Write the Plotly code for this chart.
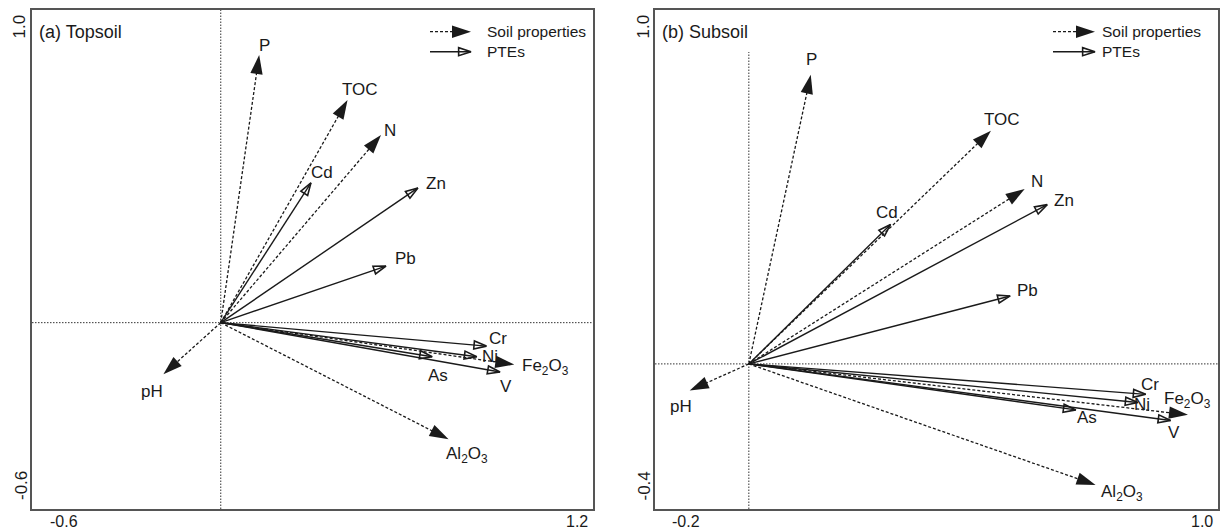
import plotly.graph_objects as go

W, H = 1220, 532
FONT = "Liberation Sans, Arial, sans-serif"
INK = "#1a1a1a"
FRAME = "#555555"

# ---------------- data ----------------
soil_names = ["P", "TOC", "N", "pH", "Al<sub>2</sub>O<sub>3</sub>", "Fe<sub>2</sub>O<sub>3</sub>"]
pte_names = ["Cd", "Zn", "Pb", "Cr", "Ni", "As", "V"]

# (a) Topsoil
top_soil_x = [0.124, 0.409, 0.517, -0.185, 0.735, 0.947]
top_soil_y = [0.856, 0.712, 0.600, -0.165, -0.373, -0.134]
top_pte_x = [0.291, 0.636, 0.533, 0.857, 0.826, 0.682, 0.901]
top_pte_y = [0.447, 0.431, 0.181, -0.075, -0.109, -0.109, -0.158]

# (b) Subsoil
sub_soil_x = [0.132, 0.516, 0.588, -0.126, 0.739, 0.936]
sub_soil_y = [0.817, 0.659, 0.494, -0.075, -0.342, -0.144]
sub_pte_x = [0.302, 0.636, 0.557, 0.846, 0.829, 0.697, 0.899]
sub_pte_y = [0.394, 0.450, 0.192, -0.086, -0.109, -0.130, -0.160]

top_xrange = [-0.609, 1.2]
top_yrange = [-0.596, 1.0]
sub_xrange = [-0.2, 1.0]
sub_yrange = [-0.41, 1.0]

top_xticks = ["-0.6", "1.2"]
top_yticks = ["-0.6", "1.0"]
sub_xticks = ["-0.2", "1.0"]
sub_yticks = ["-0.4", "1.0"]

legend_labels = ["Soil properties", "PTEs"]
panel_titles = ["(a) Topsoil", "(b) Subsoil"]

# ---------------- layout / style (pixel placements) ----------------
top_offsets = {"P": (5, -10), "TOC": (12.5, -11), "N": (9, -5), "pH": (-11.5, 17),
               "Al<sub>2</sub>O<sub>3</sub>": (18.5, 16), "Fe<sub>2</sub>O<sub>3</sub>": (31, 2),
               "Cd": (11.5, -10), "Zn": (18, -4), "Pb": (20, -8), "Cr": (11.6, -8),
               "Ni": (13.3, -0.7), "As": (6, 19), "V": (6, 14)}
sub_offsets = {"P": (1, -15), "TOC": (11, -11), "N": (12, -8), "pH": (-9, 16),
               "Al<sub>2</sub>O<sub>3</sub>": (26, 8), "Fe<sub>2</sub>O<sub>3</sub>": (0, -15),
               "Cd": (-3.5, -12), "Zn": (16.5, -4), "Pb": (17, -5), "Cr": (4, -10),
               "Ni": (4, 2), "As": (11.5, 8), "V": (3.5, 12)}

panels = [
    dict(xa="x", ya="y", xpx=(32, 592.7), ypx=(10, 509), xr=top_xrange, yr=top_yrange,
         sx=top_soil_x, sy=top_soil_y, px_=top_pte_x, py_=top_pte_y, off=top_offsets,
         xt=top_xticks, yt=top_yticks, title=panel_titles[0], title_px=(37, 31.5),
         xtick_px=[(64, 521.5), (577, 521.5)], ytick_px=[(21, 486), (19, 26.5)],
         leg_px=dict(x0=430, x1=471, tx=485, y=(31.7, 51.7)), vline_top=10),
    dict(xa="x2", ya="y2", xpx=(655, 1218), ypx=(10, 509), xr=sub_xrange, yr=sub_yrange,
         sx=sub_soil_x, sy=sub_soil_y, px_=sub_pte_x, py_=sub_pte_y, off=sub_offsets,
         xt=sub_xticks, yt=sub_yticks, title=panel_titles[1], title_px=(660, 31.5),
         xtick_px=[(686, 521.5), (1201.5, 521.5)], ytick_px=[(643.5, 486), (643.5, 27)],
         leg_px=dict(x0=1053, x1=1095, tx=1100, y=(31.7, 51.7)), vline_top=52),
]

fig = go.Figure()


def p2d(p, px, py):
    (x0, x1), (y0, y1) = p["xpx"], p["ypx"]
    X = p["xr"][0] + (px - x0) / (x1 - x0) * (p["xr"][1] - p["xr"][0])
    Y = p["yr"][1] - (py - y0) / (y1 - y0) * (p["yr"][1] - p["yr"][0])
    return X, Y


def arrow_trace(xs, ys, xa, ya, kind):
    if kind == "soil":
        line = dict(color=INK, width=1.3, dash="3px,2px")
        marker = dict(symbol=["circle", "arrow"], size=[2, 20], opacity=[0, 1], color=INK,
                      angleref="previous", line=dict(width=0))
    else:
        line = dict(color=INK, width=1.4)
        marker = dict(symbol=["circle", "arrow-open"], size=[2, 13], opacity=[0, 1], color=INK,
                      angleref="previous", line=dict(width=1.6, color=INK))
    return go.Scatter(x=xs, y=ys, xaxis=xa, yaxis=ya, mode="lines+markers", line=line,
                      marker=marker, showlegend=False, hoverinfo="skip")


annotations = []
shapes = []
for p in panels:
    xa, ya = p["xa"], p["ya"]
    # reference lines through origin
    _, vtop = p2d(p, 0, p["vline_top"])
    shapes.append(dict(type="line", xref=xa, yref=ya, x0=0, x1=0, y0=p["yr"][0], y1=vtop,
                       line=dict(color="#333", width=1, dash="1.5px,1.5px"), layer="below"))
    shapes.append(dict(type="line", xref=xa, yref=ya, x0=p["xr"][0], x1=p["xr"][1], y0=0, y1=0,
                       line=dict(color="#333", width=1, dash="1.5px,1.5px"), layer="below"))
    # arrows
    for n, X, Y in zip(soil_names, p["sx"], p["sy"]):
        fig.add_trace(arrow_trace([0, X], [0, Y], xa, ya, "soil"))
        dx, dy = p["off"][n]
        annotations.append(dict(x=X, y=Y, xref=xa, yref=ya, text=n, showarrow=False,
                                xshift=dx, yshift=-dy, font=dict(size=17, color=INK, family=FONT)))
    for n, X, Y in zip(pte_names, p["px_"], p["py_"]):
        fig.add_trace(arrow_trace([0, X], [0, Y], xa, ya, "pte"))
        dx, dy = p["off"][n]
        annotations.append(dict(x=X, y=Y, xref=xa, yref=ya, text=n, showarrow=False,
                                xshift=dx, yshift=-dy, font=dict(size=17, color=INK, family=FONT)))
    # legend
    lg = p["leg_px"]
    for i, (lab, kind) in enumerate(zip(legend_labels, ["soil", "pte"])):
        ax0, ay0 = p2d(p, lg["x0"], lg["y"][i])
        ax1, ay1 = p2d(p, lg["x1"], lg["y"][i])
        fig.add_trace(arrow_trace([ax0, ax1], [ay0, ay1], xa, ya, kind))
        annotations.append(dict(x=lg["tx"] / W, y=1 - lg["y"][i] / H, xref="paper", yref="paper",
                                text=lab, showarrow=False, xanchor="left", yanchor="middle",
                                font=dict(size=15.5, color=INK, family=FONT)))
    # title
    annotations.append(dict(x=p["title_px"][0] / W, y=1 - p["title_px"][1] / H, xref="paper",
                            yref="paper", text=p["title"], showarrow=False, xanchor="left",
                            yanchor="middle", font=dict(size=18, color=INK, family=FONT)))
    # tick labels at the axis ends
    for t, (tx, ty) in zip(p["xt"], p["xtick_px"]):
        annotations.append(dict(x=tx / W, y=1 - ty / H, xref="paper", yref="paper", text=t,
                                showarrow=False, xanchor="center", yanchor="middle",
                                font=dict(size=16, color=INK, family=FONT)))
    for t, (tx, ty) in zip(p["yt"], p["ytick_px"]):
        annotations.append(dict(x=tx / W, y=1 - ty / H, xref="paper", yref="paper", text=t,
                                showarrow=False, xanchor="center", yanchor="middle", textangle=-90,
                                font=dict(size=17, color=INK, family=FONT)))

axis_common = dict(showgrid=False, zeroline=False, showticklabels=False, ticks="",
                   showline=True, mirror=True, linecolor=FRAME, linewidth=1.6)

fig.update_layout(
    width=W, height=H, margin=dict(l=0, r=0, t=0, b=0),
    paper_bgcolor="white", plot_bgcolor="white",
    xaxis=dict(domain=[32 / W, 592.7 / W], range=top_xrange, anchor="y", **axis_common),
    yaxis=dict(domain=[1 - 509 / H, 1 - 10 / H], range=top_yrange, anchor="x", **axis_common),
    xaxis2=dict(domain=[655 / W, 1218 / W], range=sub_xrange, anchor="y2", **axis_common),
    yaxis2=dict(domain=[1 - 509 / H, 1 - 10 / H], range=sub_yrange, anchor="x2", **axis_common),
    annotations=annotations, shapes=shapes, showlegend=False,
    font=dict(family=FONT, color=INK),
)

fig.write_html("out.html")
